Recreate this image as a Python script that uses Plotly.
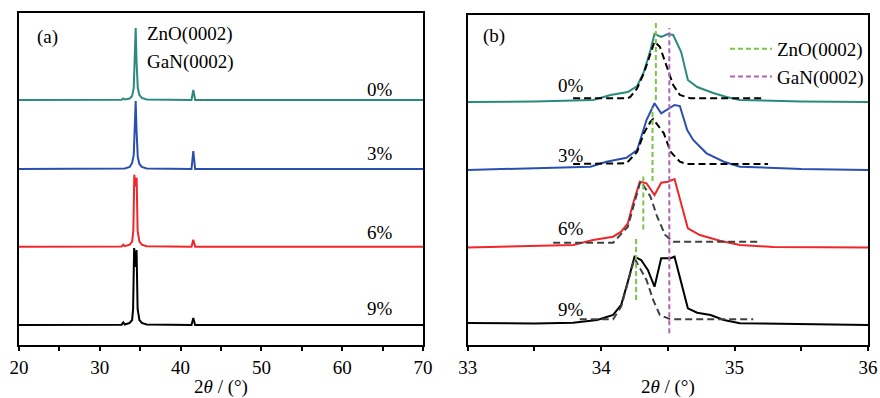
import plotly.graph_objects as go

# ---------------- data ----------------
SAMPLES = ["0%", "3%", "6%", "9%"]
COLORS = ["#2b8a7d", "#2a4fae", "#f0262a", "#000000"]
FIT_COLORS = ["#000000", "#000000", "#404040", "#404040"]

# Panel (a): wide scan, intensity above each trace's baseline (arbitrary units)
A_X_0 = [20, 32.7, 32.9, 33.1, 33.7, 34.0, 34.2, 34.33, 34.44, 34.55, 34.7, 34.9, 35.2, 35.8, 41.35, 41.57, 41.8, 70]
A_Y_0 = [0, 0.3, 1.5, 0.5, 1.5, 4, 12, 40, 72, 38, 12, 5, 2, 0.5, 0, 10, 0, 0]
A_X_3 = [20, 32.7, 32.9, 33.1, 33.7, 34.0, 34.2, 34.33, 34.44, 34.55, 34.7, 34.9, 35.2, 35.8, 41.35, 41.57, 41.8, 70]
A_Y_3 = [0, 0.3, 1.0, 0.5, 2, 6, 14, 40, 68, 38, 12, 5, 2, 0.5, 0, 18, 0, 0]
A_X_6 = [20, 32.7, 32.9, 33.1, 33.7, 34.0, 34.15, 34.27, 34.4, 34.56, 34.68, 34.9, 35.2, 35.8, 41.35, 41.57, 41.8, 70]
A_Y_6 = [0, 0.3, 2, 0.5, 2, 5, 16, 72, 60, 69, 16, 5, 2, 0.5, 0, 7, 0, 0]
A_X_9 = [20, 32.7, 32.9, 33.1, 33.7, 34.0, 34.12, 34.25, 34.4, 34.55, 34.68, 34.9, 35.2, 35.8, 41.35, 41.57, 41.8, 70]
A_Y_9 = [0, 0.3, 2.5, 0.5, 2, 5, 16, 77, 58, 75, 16, 5, 2, 0.5, 0, 7, 0, 0]

# Panel (b): zoom on the (0002) peak
B_X_0 = [33.0, 33.5, 33.94, 34.07, 34.20, 34.27, 34.32, 34.37, 34.40, 34.45, 34.50, 34.54, 34.60, 34.65, 34.72, 34.84, 34.94, 35.04, 35.5, 36.0]
B_Y_0 = [0, 0.5, 2, 7, 10, 16, 30, 52, 68, 65, 68, 67, 50, 22, 15, 9, 5, 2, 0.5, 0]
B_X_3 = [33.0, 33.54, 33.92, 34.04, 34.19, 34.27, 34.34, 34.40, 34.45, 34.55, 34.59, 34.645, 34.69, 34.79, 34.92, 35.04, 35.5, 36.0]
B_Y_3 = [0, 1.7, 3.3, 8.3, 12.3, 20, 50, 66.7, 56.7, 65, 64, 40, 30, 16.7, 8.3, 3.3, 1, 0]
B_X_6 = [33.0, 33.79, 33.94, 34.09, 34.15, 34.20, 34.24, 34.29, 34.34, 34.40, 34.45, 34.50, 34.55, 34.60, 34.65, 34.74, 34.89, 35.04, 35.29, 36.0]
B_Y_6 = [0, 2.5, 7.5, 10.8, 15.8, 24.2, 44.2, 65.8, 64.2, 52.5, 64.8, 65.8, 68.5, 42.5, 19.2, 12.5, 6.8, 2.5, 0.5, 0]
B_X_9 = [33.0, 33.5, 33.79, 33.97, 34.09, 34.15, 34.20, 34.25, 34.30, 34.35, 34.40, 34.45, 34.52, 34.55, 34.65, 34.72, 34.82, 34.92, 35.04, 36.0]
B_Y_9 = [2, 1.5, 2.3, 5, 10, 20, 43.3, 68.3, 65, 55, 38.3, 66.7, 66.7, 68.3, 16.7, 12.3, 10, 5, 1.7, 0]

# Fitted ZnO(0002) components (dashed)
F_X_0 = [33.79, 34.20, 34.22, 34.27, 34.32, 34.37, 34.40, 34.44, 34.49, 34.54, 34.59, 34.67, 35.22]
F_Y_0 = [3.7, 3.7, 5.3, 13.7, 28.7, 48.7, 60.3, 55.3, 35.3, 17, 7, 3.7, 3.7]
F_X_3 = [33.79, 34.15, 34.19, 34.27, 34.32, 34.37, 34.39, 34.47, 34.52, 34.59, 34.64, 35.25]
F_Y_3 = [6, 6, 6.7, 18.3, 36.7, 48.3, 51, 36.7, 18.3, 8.3, 6, 6]
F_X_6 = [33.64, 34.09, 34.20, 34.24, 34.29, 34.30, 34.37, 34.42, 34.48, 34.54, 35.18]
F_Y_6 = [4.8, 4.8, 20.8, 40.8, 64.2, 65.8, 50.8, 30.8, 12.5, 5.8, 5.8]
F_X_9 = [33.84, 34.09, 34.15, 34.20, 34.25, 34.34, 34.39, 34.44, 34.52, 35.14]
F_Y_9 = [5.7, 5.7, 18.3, 41.7, 66.7, 45, 25, 10, 5.7, 5.7]

# Reference peak positions
ZNO_POS = [34.41, 34.385, 34.316, 34.262]
ZNO_SPAN = [(2, 80), (-11, 62), (18, 72), (25, 86)]   # relative to panel-(b) baselines
GAN_POS = 34.511
GAN_SPAN = (11.7, 317)

A_X = [A_X_0, A_X_3, A_X_6, A_X_9]
A_Y = [A_Y_0, A_Y_3, A_Y_6, A_Y_9]
B_X = [B_X_0, B_X_3, B_X_6, B_X_9]
B_Y = [B_Y_0, B_Y_3, B_Y_6, B_Y_9]
F_X = [F_X_0, F_X_3, F_X_6, F_X_9]
F_Y = [F_Y_0, F_Y_3, F_Y_6, F_Y_9]

# vertical stacking offsets (layout)
OFFSET_A = [245, 176, 98.3, 20]
OFFSET_B = [243, 175, 97.5, 20]

FONT = "Liberation Serif, Times New Roman, serif"
FS = 19

fig = go.Figure()

for i in range(4):
    fig.add_trace(go.Scatter(
        x=A_X[i], y=[v + OFFSET_A[i] for v in A_Y[i]], mode="lines",
        line=dict(color=COLORS[i], width=2), showlegend=False,
        xaxis="x", yaxis="y"))

for i in range(4):
    fig.add_trace(go.Scatter(
        x=B_X[i], y=[v + OFFSET_B[i] for v in B_Y[i]], mode="lines",
        line=dict(color=COLORS[i], width=2), showlegend=False,
        xaxis="x2", yaxis="y2"))
    fig.add_trace(go.Scatter(
        x=F_X[i], y=[v + OFFSET_B[i] for v in F_Y[i]], mode="lines",
        line=dict(color=FIT_COLORS[i], width=2, dash="7px,4px"), showlegend=False,
        xaxis="x2", yaxis="y2"))

zx, zy = [], []
for i in range(4):
    zx += [ZNO_POS[i], ZNO_POS[i], None]
    zy += [OFFSET_B[i] + ZNO_SPAN[i][0], OFFSET_B[i] + ZNO_SPAN[i][1], None]
fig.add_trace(go.Scatter(x=zx, y=zy, mode="lines", name="ZnO(0002)",
                         line=dict(color="#7cc443", width=2, dash="5px,3px"),
                         xaxis="x2", yaxis="y2"))
fig.add_trace(go.Scatter(x=[GAN_POS, GAN_POS], y=list(GAN_SPAN), mode="lines", name="GaN(0002)",
                         line=dict(color="#b064b4", width=2, dash="5px,3px"),
                         xaxis="x2", yaxis="y2"))

W, H = 880, 398
L, R, T, B = 19, 12, 13, 53
pw = W - L - R
ph = H - T - B

axis_common = dict(showline=True, linewidth=2, linecolor="black", mirror=True,
                   showgrid=False, zeroline=False, automargin=False,
                   tickfont=dict(family=FONT, size=FS, color="black"))

fig.update_layout(
    width=W, height=H,
    margin=dict(l=L, r=R, t=T, b=B, autoexpand=False),
    paper_bgcolor="white", plot_bgcolor="white",
    font=dict(family=FONT, size=FS, color="black"),
    xaxis=dict(domain=[0, (423 - L) / pw], range=[20, 70], dtick=10, tick0=20,
               ticks="outside", ticklen=4, tickwidth=1.5, tickcolor="black",
               ticklabelstandoff=0,
               minor=dict(dtick=5, tick0=20, ticks="outside", ticklen=4, tickwidth=1.5, tickcolor="black"),
               title=dict(text="2<i>θ</i> / (°)", font=dict(family=FONT, size=FS), standoff=10),
               **axis_common),
    yaxis=dict(domain=[0, 1], range=[0, ph], showticklabels=False, ticks="", **axis_common),
    xaxis2=dict(domain=[(467.7 - L) / pw, 1], range=[33, 36], dtick=1, tick0=33,
                ticks="outside", ticklen=4, tickwidth=1.5, tickcolor="black",
                ticklabelstandoff=0,
                minor=dict(dtick=0.5, tick0=33, ticks="outside", ticklen=4, tickwidth=1.5, tickcolor="black"),
                title=dict(text="2<i>θ</i> / (°)", font=dict(family=FONT, size=FS), standoff=10),
                anchor="y2", **axis_common),
    yaxis2=dict(domain=[0, (345 - 15) / ph], range=[0, 330], showticklabels=False, ticks="",
                anchor="x2", **axis_common),
    legend=dict(x=(725 - L) / pw, y=1 - (30 - T) / ph, xanchor="left", yanchor="top",
                bgcolor="rgba(0,0,0,0)", font=dict(family=FONT, size=FS),
                itemwidth=42, tracegroupgap=0),
)

ann = []
def txt(text, x, y, xref, yref, xanchor="left"):
    ann.append(dict(text=text, x=x, y=y, xref=xref, yref=yref, showarrow=False,
                    xanchor=xanchor, yanchor="middle",
                    font=dict(family=FONT, size=FS, color="black")))

txt("(a)", 21.95, 308, "x", "y")
txt("ZnO(0002)", 35.6, 311, "x", "y")
txt("GaN(0002)", 35.6, 283, "x", "y")
for lab, yy in zip(SAMPLES, [256, 192, 112.3, 36.7]):
    txt(lab, 66.5, yy, "x", "y", xanchor="right")

txt("(b)", 33.1, 309, "x2", "y2")
for lab, yy in zip(SAMPLES, [259, 190, 117, 36]):
    txt(lab, 33.665, yy, "x2", "y2")

fig.update_layout(annotations=ann)
fig.write_html("out.html",
               config={"displayModeBar": False},
               post_script="document.body.style.margin='0px';document.body.style.overflow='hidden';")
